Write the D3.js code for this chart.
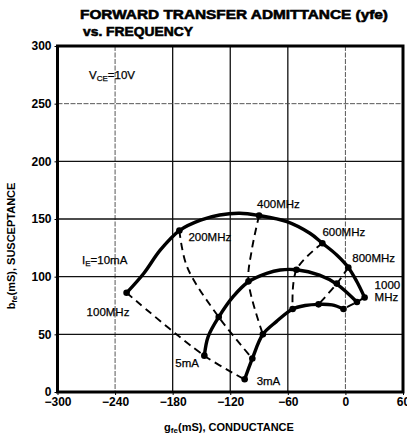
<!DOCTYPE html>
<html><head><meta charset="utf-8">
<script src="https://cdn.jsdelivr.net/npm/d3@7"></script>
<style>
body{margin:0;background:#fff;}
svg{display:block;font-family:"Liberation Sans",Arial,Helvetica,sans-serif;}
</style></head>
<body><svg id="c" width="407" height="438"></svg>
<script>
// ---- data ----
const freqLabels = ["100MHz","200MHz","400MHz","600MHz","800MHz","1000MHz"];
const currentLabels = ["10mA","5mA","3mA"];
// marker points (conductance g, susceptance b) at each frequency
const g10 = [-228,-173,-90,-24,3,20];
const b10 = [86,140,153,129,108,82];
const g5  = [-147,-132,-101,-51,-9,12];
const b5  = [31.5,65,96,106,94,78];
const g3  = [-105,-97,-86,-55,-28,-2];
const b3  = [11,29,50,72,76,72];
// traced shape of each current curve
const t10g = [-228,-210,-193,-173,-151,-131,-110,-90,-61,-37,-24,-9,3,12,20];
const t10b = [86,103,123,140,149,153.5,155,153,147.7,137.6,129,118.8,108,95.6,82];
const t5g  = [-147,-143,-132,-117,-101,-82,-68,-51,-27,-9,12];
const t5b  = [31.5,48,65,82.7,95.6,102.9,105.8,106,101.4,93.6,78];
const t3g  = [-105,-97,-86,-72,-55,-42,-28,-14,-2];
const t3b  = [11,29,50,61,72,75,76,75.5,72];
// mid points on constant-frequency lines between 10mA and 5mA
const midG = [null,-165,-97.6,null,null,null];
const midB = [null,108.6,123,null,null,null];
// axis ticks
const xTicks = [-300,-240,-180,-120,-60,0,60];
const yTicks = [0,50,100,150,200,250,300];

// ---- drawing ----
const svg = d3.select("#c");
const x = d3.scaleLinear().domain([-300,60]).range([57.5,403]);
const y = d3.scaleLinear().domain([0,300]).range([392,46]);

// grid
const dottedX = [-240,0], dottedY = [250];
svg.append("g").selectAll("line").data(xTicks.filter(v=>v>-300&&v<60)).join("line")
  .attr("x1",d=>x(d)).attr("x2",d=>x(d)).attr("y1",y(300)).attr("y2",y(0))
  .attr("stroke",d=>dottedX.includes(d)?"#444":"#111")
  .attr("stroke-width",d=>dottedX.includes(d)?0.9:1.3)
  .attr("stroke-dasharray",d=>dottedX.includes(d)?"5,1.5":null);
svg.append("g").selectAll("line").data(yTicks.filter(v=>v>0&&v<300)).join("line")
  .attr("y1",d=>y(d)).attr("y2",d=>y(d)).attr("x1",x(-300)).attr("x2",x(60))
  .attr("stroke",d=>dottedY.includes(d)?"#444":"#111")
  .attr("stroke-width",d=>dottedY.includes(d)?0.9:1.3)
  .attr("stroke-dasharray",d=>dottedY.includes(d)?"5,1.5":null);

// axes (ticks + labels)
const yAxis = d3.axisLeft(y).tickValues(yTicks).tickSize(3).tickPadding(3).tickFormat(d3.format("d"));
const ya = svg.append("g").attr("transform",`translate(${x(-300)},0)`).call(yAxis);
ya.select(".domain").remove();
ya.selectAll("text").attr("font-size",12).attr("font-weight","bold").attr("fill","#000")
  .attr("font-family","Liberation Sans, Arial, sans-serif");
const xAxis = d3.axisBottom(x).tickValues(xTicks).tickSize(3).tickPadding(2)
  .tickFormat(d=> d<0 ? "\u2212"+Math.abs(d) : String(d));
const xa = svg.append("g").attr("transform",`translate(0,${y(0)})`).call(xAxis);
xa.select(".domain").remove();
xa.selectAll("text").attr("font-size",12).attr("font-weight","bold").attr("fill","#000")
  .attr("font-family","Liberation Sans, Arial, sans-serif");

// frame
svg.append("rect").attr("x",x(-300)).attr("y",y(300))
  .attr("width",x(60)-x(-300)).attr("height",y(0)-y(300))
  .attr("fill","none").attr("stroke","#000").attr("stroke-width",3);

// constant-frequency dashed lines
const dashLine = d3.line().x(d=>x(d[0])).y(d=>y(d[1])).curve(d3.curveCatmullRom.alpha(0.5));
freqLabels.forEach((f,i)=>{
  const pts = [[g10[i],b10[i]]];
  if(midG[i]!==null) pts.push([midG[i],midB[i]]);
  pts.push([g5[i],b5[i]],[g3[i],b3[i]]);
  svg.append("path").attr("d",dashLine(pts)).attr("fill","none")
    .attr("stroke","#000").attr("stroke-width",1.9).attr("stroke-dasharray","7.5,5");
});

// current curves
const solid = d3.line().x(d=>x(d[0])).y(d=>y(d[1])).curve(d3.curveCatmullRom.alpha(0.5));
[[t10g,t10b],[t5g,t5b],[t3g,t3b]].forEach(([gs,bs])=>{
  svg.append("path").attr("d",solid(gs.map((g,k)=>[g,bs[k]]))).attr("fill","none")
    .attr("stroke","#000").attr("stroke-width",3.4).attr("stroke-linejoin","round").attr("stroke-linecap","round");
});

// markers
[[g10,b10],[g5,b5],[g3,b3]].forEach(([gs,bs])=>{
  svg.append("g").selectAll("circle").data(gs.map((g,k)=>[g,bs[k]])).join("circle")
    .attr("cx",d=>x(d[0])).attr("cy",d=>y(d[1])).attr("r",3.3).attr("fill","#000");
});

// annotations
const ann = (t,px,py,opts={})=>svg.append("text").attr("x",px).attr("y",py)
  .attr("font-size",opts.size||11.5).attr("font-weight",opts.weight||"normal")
  .attr("text-anchor",opts.anchor||"start").attr("fill","#000")
  .attr("stroke","#000").attr("stroke-width",0.25).text(t);

ann(freqLabels[0], x(g10[0])-40, y(b10[0])+23);
ann(freqLabels[1], x(g10[1])+9,  y(b10[1])+10);
ann(freqLabels[2], x(g10[2])-2,  y(b10[2])-8);
ann(freqLabels[3], x(g10[3])+0,  y(b10[3])-7);
ann(freqLabels[4], x(g10[4])+4,  y(b10[4])-5);
ann("1000", x(g10[5])+10, y(b10[5])-8);
ann("MHz",  x(g10[5])+10, y(b10[5])+4);
ann(currentLabels[1], x(g5[0])-29, y(b5[0])+11);
ann(currentLabels[2], x(g3[0])+12, y(b3[0])+6);

// I_E = 10mA
const ie = svg.append("text").attr("x",82).attr("y",264).attr("font-size",11.5).attr("fill","#000")
  .attr("stroke","#000").attr("stroke-width",0.25);
ie.append("tspan").text("I");
ie.append("tspan").attr("font-size",8).attr("dy",2).text("E");
ie.append("tspan").attr("dy",-2).text("=" + currentLabels[0]);

// V_CE = 10V
const vce = svg.append("text").attr("x",89).attr("y",79).attr("font-size",11.5).attr("fill","#000")
  .attr("stroke","#000").attr("stroke-width",0.25);
vce.append("tspan").text("V");
vce.append("tspan").attr("font-size",8).attr("dy",2).text("CE");
vce.append("tspan").attr("dy",-2).text("=10V");

// title
svg.append("text").attr("x",80).attr("y",19).attr("font-size",13.5).attr("font-weight","bold")
  .attr("textLength",308).attr("lengthAdjust","spacingAndGlyphs").attr("fill","#000")
  .attr("stroke","#000").attr("stroke-width",0.6)
  .text("FORWARD TRANSFER ADMITTANCE (yfe)");
svg.append("text").attr("x",83).attr("y",36).attr("font-size",13.5).attr("font-weight","bold")
  .attr("textLength",110).attr("lengthAdjust","spacingAndGlyphs").attr("fill","#000")
  .attr("stroke","#000").attr("stroke-width",0.6)
  .text("vs. FREQUENCY");

// x axis title
const xt = svg.append("text").attr("x",229).attr("y",431).attr("text-anchor","middle")
  .attr("font-size",11).attr("font-weight","bold").attr("fill","#000");
xt.append("tspan").text("g");
xt.append("tspan").attr("font-size",8).attr("dy",2).text("fe");
xt.append("tspan").attr("dy",-2).text("(mS), CONDUCTANCE");

// y axis title
const yt = svg.append("text").attr("transform","translate(15,246) rotate(-90)").attr("text-anchor","middle")
  .attr("font-size",11).attr("font-weight","bold").attr("fill","#000");
yt.append("tspan").text("b");
yt.append("tspan").attr("font-size",8).attr("dy",2).text("fe");
yt.append("tspan").attr("dy",-2).text("(mS), SUSCEPTANCE");
</script></body></html>
